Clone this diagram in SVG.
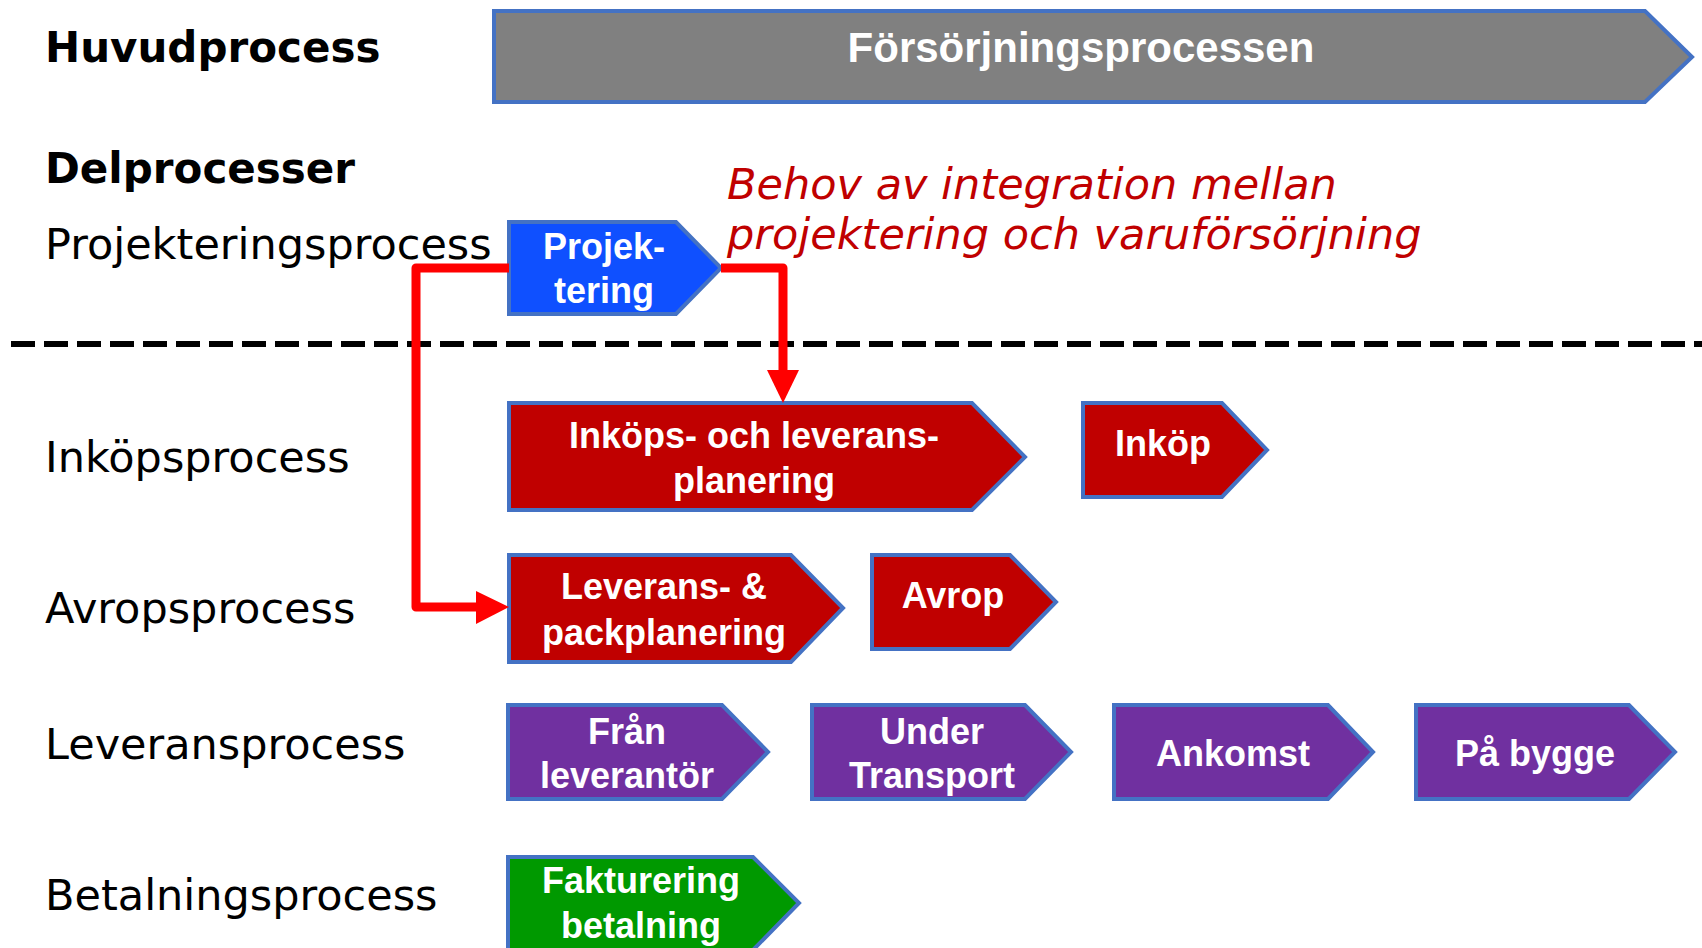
<svg xmlns="http://www.w3.org/2000/svg" width="1702" height="948" viewBox="0 0 1702 948">
<style>
.lbl{font-family:"DejaVu Sans",Verdana,sans-serif;font-size:43px;fill:#000}
.hdr{font-weight:bold;font-size:42px}
.box{stroke:#4472C4;stroke-width:4;stroke-linejoin:miter}
.bt{font-family:"Liberation Sans",Arial,sans-serif;font-weight:bold;font-size:36px;fill:#fff;text-anchor:middle}
.red{fill:#C00000}.pur{fill:#7030A0}.grn{fill:#009900}.blu{fill:#0F50FF}.gry{fill:#808080}
.con{fill:none;stroke:#FF0000;stroke-width:9;stroke-linejoin:round}
.note{font-family:"DejaVu Sans",Verdana,sans-serif;font-style:italic;font-size:43px;fill:#C00000}
</style>
<rect width="1702" height="948" fill="#fff"/>

<g id="labels">
<text class="lbl hdr" x="45" y="62">Huvudprocess</text>
<text class="lbl hdr" x="45" y="183">Delprocesser</text>
<text class="lbl" x="45" y="259">Projekteringsprocess</text>
<text class="lbl" x="45" y="472">Inköpsprocess</text>
<text class="lbl" x="45" y="623">Avropsprocess</text>
<text class="lbl" x="45" y="759">Leveransprocess</text>
<text class="lbl" x="45" y="910">Betalningsprocess</text>
</g>

<g id="note">
<text class="note" x="727" y="199">Behov av integration mellan</text>
<text class="note" x="727" y="249">projektering och varuförsörjning</text>
</g>

<line id="divider" x1="11" y1="344" x2="1702" y2="344" stroke="#000" stroke-width="6" stroke-dasharray="24 9"/>

<g id="n-main">
<polygon class="box gry" points="494,11 1645,11 1692,57 1645,102 494,102"/>
<text class="bt" x="1081" y="62" style="font-size:42px">Försörjningsprocessen</text>
</g>

<g id="n-projektering">
<polygon class="box blu" points="509,222 676,222 721,268 676,314 509,314"/>
<text class="bt" x="604" y="259">Projek-</text>
<text class="bt" x="604" y="303">tering</text>
</g>

<g id="n-inkopsplanering">
<polygon class="box red" points="509,403 972,403 1025,457 972,510 509,510"/>
<text class="bt" x="754" y="448">Inköps- och leverans-</text>
<text class="bt" x="754" y="493">planering</text>
</g>

<g id="n-inkop">
<polygon class="box red" points="1083,403 1222,403 1267,450 1222,497 1083,497"/>
<text class="bt" x="1163" y="456">Inköp</text>
</g>

<g id="n-leverans">
<polygon class="box red" points="509,555 791,555 843,608 791,662 509,662"/>
<text class="bt" x="664" y="599">Leverans- &amp;</text>
<text class="bt" x="664" y="645">packplanering</text>
</g>

<g id="n-avrop">
<polygon class="box red" points="872,555 1010,555 1056,602 1010,649 872,649"/>
<text class="bt" x="953" y="608">Avrop</text>
</g>

<g id="n-fran">
<polygon class="box pur" points="508,705 722,705 768,752 722,799 508,799"/>
<text class="bt" x="627" y="744">Från</text>
<text class="bt" x="627" y="788">leverantör</text>
</g>

<g id="n-under">
<polygon class="box pur" points="812,705 1025,705 1071,752 1025,799 812,799"/>
<text class="bt" x="932" y="744">Under</text>
<text class="bt" x="932" y="788">Transport</text>
</g>

<g id="n-ankomst">
<polygon class="box pur" points="1114,705 1328,705 1373,752 1328,799 1114,799"/>
<text class="bt" x="1233" y="766">Ankomst</text>
</g>

<g id="n-pabygge">
<polygon class="box pur" points="1416,705 1629,705 1675,752 1629,799 1416,799"/>
<text class="bt" x="1535" y="766">På bygge</text>
</g>

<g id="n-fakturering">
<polygon class="box grn" points="508,857 753,857 799,903 753,950 508,950"/>
<text class="bt" x="641" y="893">Fakturering</text>
<text class="bt" x="641" y="938">betalning</text>
</g>

<g id="connectors">
<path class="con" d="M509,268 L416,268 L416,607 L480,607"/>
<polygon points="476,591 509,607 476,624" fill="#FF0000"/>
<path class="con" d="M721,268 L783,268 L783,374"/>
<polygon points="767,370 783,403 799,370" fill="#FF0000"/>
</g>
</svg>
